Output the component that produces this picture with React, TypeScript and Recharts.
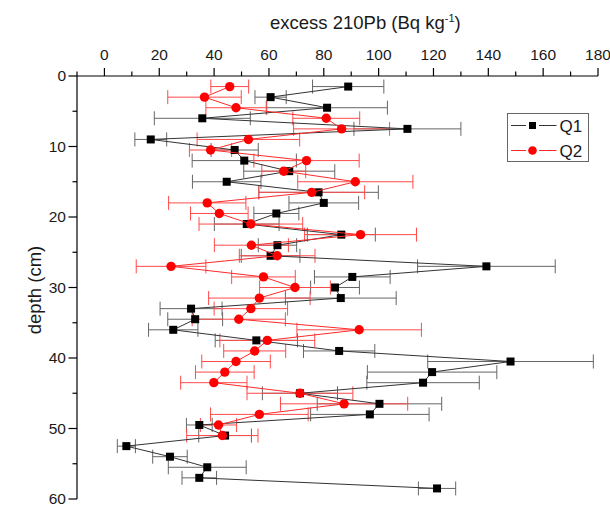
import React from 'react';
import { ScatterChart, Scatter, XAxis, YAxis, ErrorBar } from 'recharts';

const depths = [1.5, 3, 4.5, 6, 7.5, 9, 10.5, 12, 13.5, 15, 16.5, 18, 19.5, 21, 22.5, 24, 25.5, 27, 28.5, 30, 31.5, 33, 34.5, 36, 37.5, 39, 40.5, 42, 43.5, 45, 46.5, 48, 49.5, 51, 52.5, 54, 55.5, 57, 58.5];

const q1Values = [88.9, 60.6, 81.2, 35.7, 110.5, 16.9, 47.5, 51.0, 67.4, 44.6, 78.1, 80.0, 62.7, 51.9, 86.4, 63.1, 60.6, 139.3, 90.4, 84.1, 86.2, 31.6, 33.1, 25.1, 55.4, 85.6, 148.1, 119.5, 116.2, 71.3, 100.3, 96.8, 34.6, 44.0, 8.0, 23.9, 37.5, 34.6, 121.3];
const q1Errors = [13, 5.7, 22, 17.5, 19.5, 5.8, 8.6, 19, 16.6, 12.5, 21.8, 12.7, 8.2, 11.8, 12.4, 7, 10.7, 25.1, 13.8, 8.9, 20.2, 11.3, 10, 9, 15, 13, 30.2, 23.6, 20.5, 13.7, 22.7, 21.6, 4.7, 9.6, 3.3, 6.3, 14.2, 6.3, 6.8];

const q2Values = [45.7, 36.5, 48.0, 80.9, 86.5, 52.5, 38.7, 73.7, 65.4, 91.5, 75.6, 37.5, 41.9, 53.4, 93.4, 53.6, 63.0, 24.3, 58.0, 69.5, 56.5, 53.4, 49.0, 92.9, 59.4, 54.8, 48.0, 43.9, 39.9, 71.3, 87.4, 56.5, 41.6, 43.0];
const q2Errors = [6.9, 13.4, 11, 12.2, 17.5, 18.7, 7.7, 19.2, 8, 21, 19.3, 14.1, 10.5, 18.9, 20.4, 13.5, 13.8, 12.7, 11.6, 12.9, 18.5, 13.4, 17, 22.7, 17.3, 11.3, 12.5, 10.7, 12.1, 19.3, 23.2, 17.8, 6.6, 13];

const xTicks = [-10, 0, 10, 20, 30, 40, 50, 60, 70, 80, 90, 100, 110, 120, 130, 140, 150, 160, 170, 180];
const yTicks = [0, 5, 10, 15, 20, 25, 30, 35, 40, 45, 50, 55, 60];

const q1Data = q1Values.map((v, i) => ({ d: depths[i], v, e: q1Errors[i] }));
const q2Data = q2Values.map((v, i) => ({ d: depths[i], v, e: q2Errors[i] }));

const FONT = '"Liberation Sans", Arial, Helvetica, sans-serif';
const TEXT = '#1a1a1a';

const renderXTick = (p: any) => {
  const { x, y, payload } = p;
  const v = payload.value;
  const major = v % 20 === 0;
  return (
    <g>
      <line x1={x} x2={x} y1={y} y2={y - (major ? 8 : 4.5)} stroke="#000" strokeWidth={1.2} />
      {major && (
        <text x={x} y={y - 16} textAnchor="middle" fontSize={15.5} fill={TEXT} fontFamily={FONT}>
          {v}
        </text>
      )}
    </g>
  );
};

const renderYTick = (p: any) => {
  const { x, y, payload } = p;
  const v = payload.value;
  const major = v % 10 === 0;
  return (
    <g>
      <line x1={x} x2={x - (major ? 8.5 : 4.5)} y1={y} y2={y} stroke="#000" strokeWidth={1.2} />
      {major && (
        <text x={x - 11} y={y + 5} textAnchor="end" fontSize={15.5} fill={TEXT} fontFamily={FONT}>
          {v}
        </text>
      )}
    </g>
  );
};

const SquareShape = (p: any) => (
  <rect x={p.cx - 4} y={p.cy - 4} width={8} height={8} fill="#000" />
);
const CircleShape = (p: any) => (
  <circle cx={p.cx} cy={p.cy} r={4.7} fill="#ff0000" />
);

export default function App() {
  return (
    <div style={{ position: 'absolute', left: 0, top: 0, width: 610, height: 508, background: '#fff' }}>
      <ScatterChart width={610} height={508} margin={{ top: 0, right: 12, bottom: 9, left: 0 }}>
        <XAxis
          type="number"
          dataKey="v"
          orientation="top"
          domain={[-10, 180]}
          ticks={xTicks}
          interval={0}
          height={76}
          tick={renderXTick}
          tickLine={false}
          tickSize={0}
          tickMargin={0}
          axisLine={{ stroke: '#000', strokeWidth: 1.2 }}
          allowDataOverflow
        />
        <YAxis
          type="number"
          dataKey="d"
          domain={[0, 60]}
          reversed
          ticks={yTicks}
          interval={0}
          width={77}
          tick={renderYTick}
          tickLine={false}
          tickSize={0}
          tickMargin={0}
          axisLine={{ stroke: '#000', strokeWidth: 1.2 }}
          allowDataOverflow
        />
        <Scatter
          name="Q1"
          data={q1Data}
          fill="#000"
          shape={SquareShape}
          line={{ stroke: '#333', strokeWidth: 1 }}
          isAnimationActive={false}
        >
          <ErrorBar dataKey="e" direction="x" width={7} stroke="#666" strokeWidth={1} />
        </Scatter>
        <Scatter
          name="Q2"
          data={q2Data}
          fill="#ff0000"
          shape={CircleShape}
          line={{ stroke: '#ff2a2a', strokeWidth: 1 }}
          isAnimationActive={false}
        >
          <ErrorBar dataKey="e" direction="x" width={7} stroke="#ff4a4a" strokeWidth={1} />
        </Scatter>
      </ScatterChart>
      <svg
        width={610}
        height={508}
        style={{ position: 'absolute', left: 0, top: 0, pointerEvents: 'none' }}
      >
        <text x={270} y={28.5} fontSize={18.5} fill={TEXT} fontFamily={FONT}>
          excess 210Pb (Bq kg
          <tspan fontSize={11} dy={-7}>-1</tspan>
          <tspan fontSize={18.5} dy={7}>)</tspan>
        </text>
        <text
          transform="translate(41,290) rotate(-90)"
          textAnchor="middle"
          fontSize={18.5}
          fill={TEXT}
          fontFamily={FONT}
        >
          depth (cm)
        </text>
        <rect x={507.5} y={113.5} width={81} height={48} fill="#fff" stroke="#666" strokeWidth={1} />
        <line x1={511} x2={526} y1={125.5} y2={125.5} stroke="#333" strokeWidth={1} />
        <line x1={539} x2={556.5} y1={125.5} y2={125.5} stroke="#333" strokeWidth={1} />
        <rect x={529} y={122} width={7} height={7} fill="#000" />
        <text x={559.5} y={131.5} fontSize={17} fill={TEXT} fontFamily={FONT}>Q1</text>
        <line x1={511} x2={526} y1={150.5} y2={150.5} stroke="#ff2a2a" strokeWidth={1} />
        <line x1={539} x2={556.5} y1={150.5} y2={150.5} stroke="#ff2a2a" strokeWidth={1} />
        <circle cx={532.5} cy={150.5} r={4.3} fill="#ff0000" />
        <text x={559.5} y={156.5} fontSize={17} fill={TEXT} fontFamily={FONT}>Q2</text>
      </svg>
    </div>
  );
}
